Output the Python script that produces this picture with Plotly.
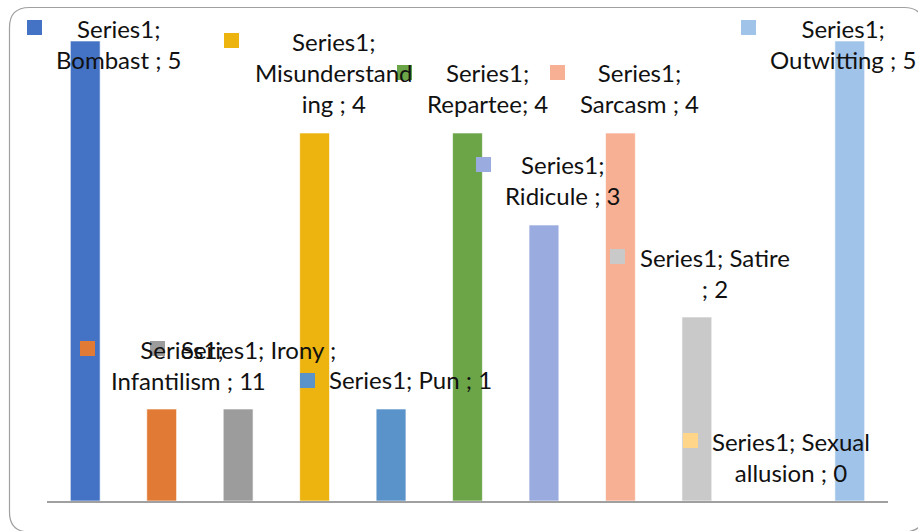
import plotly.graph_objects as go

# ---- data ----
categories = ["Bombast", "Infantilism", "Irony", "Misunderstanding", "Pun", "Repartee",
              "Ridicule", "Sarcasm", "Satire", "Sexual allusion", "Outwitting"]
values = [5, 1, 1, 4, 1, 4, 3, 4, 2, 0, 5]
series_name = "Series1"
label_texts = [
    "Series1;<br>Bombast ; 5",
    "Series1;<br>Infantilism ; 1",
    "Series1; Irony ;<br>1",
    "Series1;<br>Misunderstand<br>ing ; 4",
    "Series1; Pun ; 1",
    "Series1;<br>Repartee; 4",
    "Series1;<br>Ridicule ; 3",
    "Series1;<br>Sarcasm ; 4",
    "Series1; Satire<br>; 2",
    "Series1; Sexual<br>allusion ; 0",
    "Series1;<br>Outwitting ; 5",
]
colors = ["#4472C4", "#E07A35", "#9C9C9C", "#EDB410", "#5A93C9", "#6BA547",
          "#9AABDF", "#F8B094", "#C9C9C9", "#FFD58A", "#A0C3E9"]

# ---- layout (pixel positions of the manually placed data callouts) ----
W, H = 918, 531
L, R, T, B = 47, 30, 41, 30
PW, PH = W - L - R, H - T - B
# label block centre (x, y) and legend-key top-left (x, y) in pixels
label_pos = [(119, 43.5), (182, 364.5), (258, 364.5), (334, 72.5), (410, 379.5), (487, 88),
             (563, 179.5), (639, 88), (715, 272.5), (791, 456.5), (843, 43.5)]
key_pos = [(27, 20), (80, 341), (150, 341), (224, 33), (300, 373), (397, 65),
           (476, 157), (550, 65), (610, 249), (683, 433), (741, 20)]
KEY = 15


def px(x):
    return (x - L) / PW


def py(y):
    return (T + PH - y) / PH


fig = go.Figure(go.Bar(
    x=categories, y=values, name=series_name,
    marker=dict(color=colors, line=dict(color="rgba(255,255,255,0.6)", width=1)),
    width=0.39,
))

shapes = []
# chart border (rounded rectangle)
x0, y0, x1, y1, r = 9.5, 7.5, 924, 532, 20
path = (f"M {px(x0 + r)} {py(y0)} L {px(x1 - r)} {py(y0)} "
        f"Q {px(x1)} {py(y0)} {px(x1)} {py(y0 + r)} L {px(x1)} {py(y1 - r)} "
        f"Q {px(x1)} {py(y1)} {px(x1 - r)} {py(y1)} L {px(x0 + r)} {py(y1)} "
        f"Q {px(x0)} {py(y1)} {px(x0)} {py(y1 - r)} L {px(x0)} {py(y0 + r)} "
        f"Q {px(x0)} {py(y0)} {px(x0 + r)} {py(y0)} Z")
shapes.append(dict(type="path", xref="paper", yref="paper", path=path,
                   line=dict(color="#A0A0A0", width=1.2), layer="below"))

annotations = []
for i, (txt, (lx, ly), (kx, ky), c) in enumerate(zip(label_texts, label_pos, key_pos, colors)):
    shapes.append(dict(type="rect", xref="paper", yref="paper",
                       x0=px(kx), x1=px(kx + KEY), y0=py(ky + KEY), y1=py(ky),
                       fillcolor=c, line=dict(width=0), layer="above"))
    annotations.append(dict(xref="paper", yref="paper", x=px(lx), y=py(ly),
                            xanchor="center", yanchor="middle", align="center",
                            text=txt, showarrow=False,
                            font=dict(family="Lato, Carlito, sans-serif", size=24, color="#111111")))

fig.update_layout(
    width=W, height=H,
    margin=dict(l=L, r=R, t=T, b=B, pad=0),
    paper_bgcolor="white", plot_bgcolor="white",
    showlegend=False,
    bargap=0.61,
    xaxis=dict(type="category", range=[-0.5, 10.5], showticklabels=False, ticks="",
               showgrid=False, zeroline=False, showline=True, linecolor="#A0A0A0", linewidth=2),
    yaxis=dict(range=[0, 5], visible=False, showgrid=False, zeroline=False),
    shapes=shapes,
    annotations=annotations,
)

fig.write_html("out.html", config={"displayModeBar": False},
               post_script="document.body.style.margin='0';document.body.style.overflow='hidden';")
